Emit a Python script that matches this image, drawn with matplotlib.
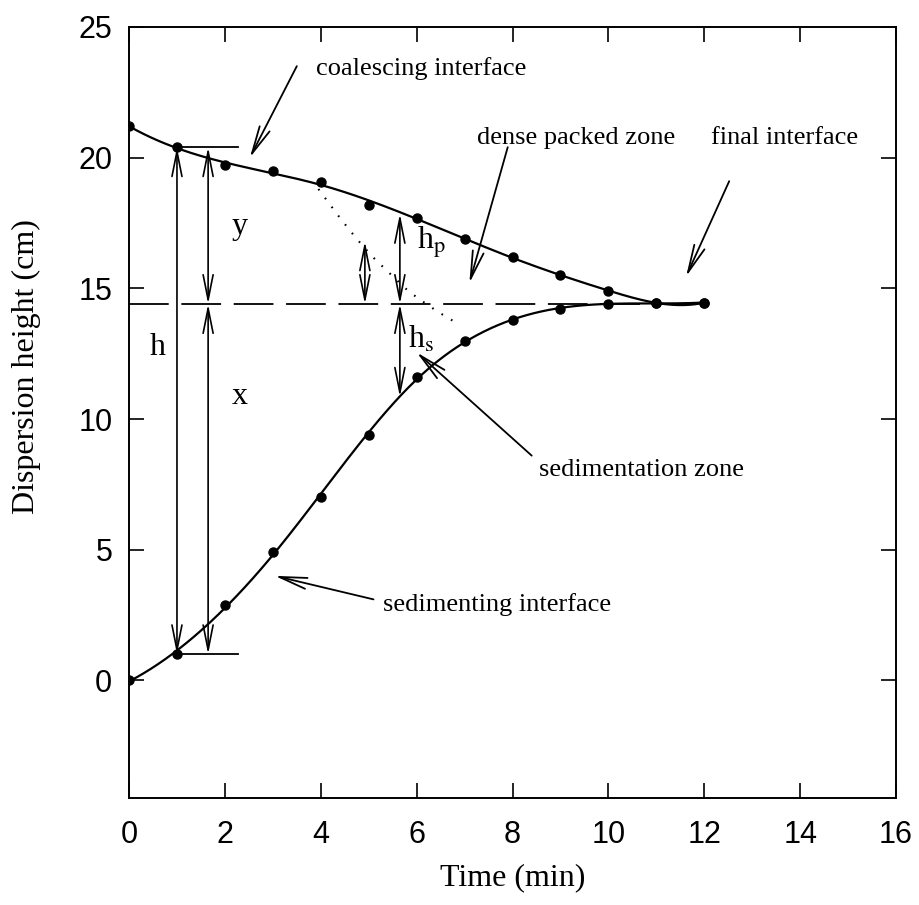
import numpy as np
import matplotlib
matplotlib.use("Agg")
import matplotlib.pyplot as plt

plt.rcParams['mathtext.fontset'] = 'stix'

# measured dispersion heights (cm) vs time (min)
time = [0, 1, 2, 3, 4, 5, 6, 7, 8, 9, 10, 11, 12]
coalescing = [21.2, 20.4, 19.7, 19.5, 19.05, 18.2, 17.7, 16.9, 16.2, 15.5, 14.9, 14.45, 14.45]
sedimenting = [0.0, 1.0, 2.9, 4.9, 7.0, 9.4, 11.6, 13.0, 13.8, 14.2, 14.4, 14.45, 14.45]
final_height = 14.4

# dotted extrapolation of the coalescing line into the packed zone
dot_t = [3.95, 4.5, 5.0, 5.45, 5.85, 6.4, 6.9]
dot_h = [18.8, 17.45, 16.35, 15.55, 14.85, 14.15, 13.6]

serif = "Liberation Serif"
sans = "Liberation Sans"


def spline_fit(x, y, xs, knots):
    # least-squares cubic regression spline (truncated power basis)
    def basis(t):
        t = np.asarray(t, float)
        cols = [np.ones_like(t), t, t**2, t**3]
        cols += [np.clip(t - k, 0, None)**3 for k in knots]
        return np.column_stack(cols)
    coef, *_ = np.linalg.lstsq(basis(x), np.asarray(y, float), rcond=None)
    return basis(xs) @ coef


fig = plt.figure(figsize=(9.19, 9.05), dpi=100)
ax = fig.add_axes([0.1404, 0.1182, 0.8346, 0.852])

ts = np.linspace(0, 12, 400)
ax.plot(ts, spline_fit(time, coalescing, ts, [4, 8, 10]), color="black", lw=1.6)
ax.plot(ts, spline_fit(time, sedimenting, ts, [3, 6, 9]), color="black", lw=1.6)
ax.plot(time, coalescing, "o", color="black", ms=6.5)
ax.plot(time, sedimenting, "o", color="black", ms=6.5)

ax.plot([0, 12], [final_height, final_height], color="black", lw=1.3,
        dashes=(22, 7))
ds = np.linspace(dot_t[0], dot_t[-1], 14)
ax.plot(ds, np.interp(ds, dot_t, dot_h), ":", color="black", lw=1.5,
        dashes=(0.8, 4.5))

# reference bars for the h, x, y construction at t = 1 min
ax.plot([1, 2.28], [coalescing[1], coalescing[1]], color="black", lw=1.3)
ax.plot([1, 2.28], [sedimenting[1], sedimenting[1]], color="black", lw=1.3)

dim = dict(arrowstyle="<->,head_length=0.9,head_width=0.18",
           color="black", lw=1.2, shrinkA=0, shrinkB=0, mutation_scale=20)
ax.annotate("", xy=(1, coalescing[1]), xytext=(1, sedimenting[1]), arrowprops=dim)
ax.annotate("", xy=(1.65, coalescing[1]), xytext=(1.65, final_height), arrowprops=dim)
ax.annotate("", xy=(1.65, final_height), xytext=(1.65, sedimenting[1]), arrowprops=dim)
ax.annotate("", xy=(4.92, 16.8), xytext=(4.92, final_height), arrowprops=dim)
ax.annotate("", xy=(5.65, 17.85), xytext=(5.65, final_height), arrowprops=dim)
ax.annotate("", xy=(5.65, final_height), xytext=(5.65, 10.85), arrowprops=dim)

lab = dict(fontfamily=serif, fontsize=23, ha="center", va="center")
ax.text(0.6, 12.75, "h", **lab)
ax.text(2.3, 17.35, "y", **lab)
ax.text(2.3, 10.85, "x", **lab)
ax.text(6.3, 16.75, r"h$_{\mathrm{p}}$", **lab)
ax.text(6.1, 13.05, r"h$_{\mathrm{s}}$", **lab)

ptr = dict(arrowstyle="->,head_length=1.0,head_width=0.2",
           color="black", lw=1.3, shrinkA=0, shrinkB=0, mutation_scale=20)
note = dict(fontfamily=serif, fontsize=19, va="center", ha="left")
ax.text(3.9, 23.4, "coalescing interface", **note)
ax.annotate("", xy=(2.52, 20.0), xytext=(3.5, 23.5), arrowprops=ptr)
ax.text(7.25, 20.75, "dense packed zone", **note)
ax.annotate("", xy=(7.1, 15.2), xytext=(7.9, 20.4), arrowprops=ptr)
ax.text(12.15, 20.75, "final interface", **note)
ax.annotate("", xy=(11.62, 15.45), xytext=(12.52, 19.1), arrowprops=ptr)
ax.text(8.55, 8.05, "sedimentation zone", **note)
ax.annotate("", xy=(6.0, 12.55), xytext=(8.4, 8.6), arrowprops=ptr)
ax.text(5.3, 2.9, "sedimenting interface", **note)
ax.annotate("", xy=(3.04, 4.0), xytext=(5.1, 3.1), arrowprops=ptr)

ax.set_xlim(0, 16)
ax.set_ylim(-4.5, 25)
ax.set_xticks(range(0, 17, 2))
ax.set_yticks(range(0, 26, 5))
ax.tick_params(direction="in", length=11, width=1.2, top=True, right=True,
               labelsize=22)
ax.tick_params(axis="x", pad=16)
ax.tick_params(axis="y", pad=12)
for lb in ax.get_xticklabels() + ax.get_yticklabels():
    lb.set_fontfamily(sans)
for sp in ax.spines.values():
    sp.set_linewidth(1.4)

ax.set_xlabel("Time (min)", fontfamily=serif, fontsize=23)
ax.set_ylabel("Dispersion height (cm)", fontfamily=serif, fontsize=23)
ax.xaxis.set_label_coords(0.5, -0.085)
ax.yaxis.set_label_coords(-0.115, 0.56)

fig.savefig("out.png", dpi=100)
